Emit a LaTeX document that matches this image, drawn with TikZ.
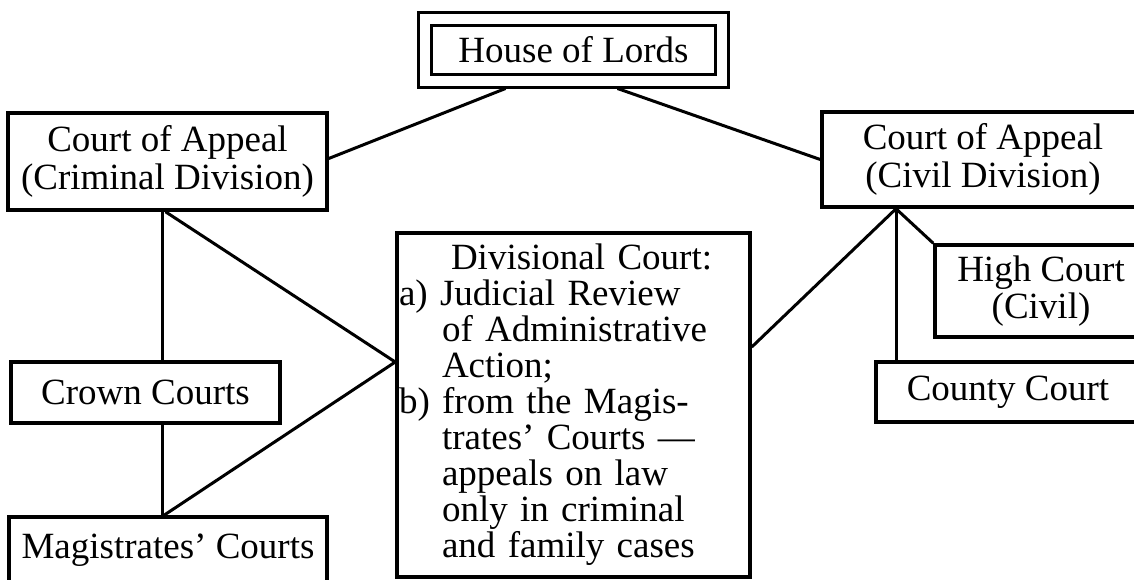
\documentclass[tikz,border=0pt]{standalone}
\usepackage{fontspec}
\setmainfont{Liberation Serif}

\begin{document}
\begin{tikzpicture}[
				x=1pt, y=-1pt,
				court/.style={draw, line width=3.5pt, inner sep=2pt, align=center,
					font=\fontsize{37pt}{37.5pt}\selectfont},
				link/.style={line width=3pt}
				]
				\useasboundingbox (0,0) rectangle (1134,579);
				\node[court, double, line width=3pt, double distance=10pt,
					minimum width=297pt, minimum height=62.5pt] (hol) at (573.5,49.75) {House of Lords};
				\node[court, minimum width=319pt, minimum height=97pt] (crim) at (167.5,161.5)
				{Court of Appeal\\(Criminal Division)};
				\node[court, minimum width=322pt, minimum height=95pt] (civ) at (983,159.5)
				{Court of Appeal\\(Civil Division)};
				\node[court, align=left, text width=349pt, minimum height=344pt,
					font=\fontsize{37pt}{36pt}\selectfont] (div) at (573.5,405)
				{\hspace*{52pt}Divisional Court:\\
					a) Judicial Review\\
					\hspace*{43pt}of Administrative\\
					\hspace*{43pt}Action;\\
					b) from the Magis-\\
					\hspace*{43pt}trates' Courts ---\\
					\hspace*{43pt}appeals on law\\
					\hspace*{43pt}only in criminal\\
					\hspace*{43pt}and family cases};
				\node[court, minimum width=269pt, minimum height=61pt] (crown) at (145.5,392.5) {Crown Courts};
				\node[court, minimum width=318pt, minimum height=66pt] (mag) at (168,550) {Magistrates' Courts};
				\node[court, minimum width=212pt, minimum height=92pt] (high) at (1041,291) {High Court\\(Civil)};
				\node[court, minimum width=264pt, minimum height=60pt] (county) at (1008,392) {County Court};

				\draw[link] ([xshift=-68pt,yshift=-6pt]hol.south) -- ([yshift=3pt]crim.east);
				\draw[link] ([xshift=44pt,yshift=-6pt]hol.south) -- (civ.west);
				\draw[link] ([xshift=-5pt]crim.south) -- ([xshift=-5pt]crim.south |- crown.north);
				\draw[link] ([xshift=-5pt]crim.south |- crown.south) -- ([xshift=-5pt]crim.south |- mag.north);
				\draw[link] ([xshift=-2pt]crim.south) -- ([yshift=43pt]div.west);
				\draw[link] ([xshift=-4pt]mag.north) -- ([yshift=43pt]div.west);
				\draw[link] ([xshift=-87pt]civ.south) -- ([yshift=58pt]div.east);
				\draw[link] ([xshift=-87pt]civ.south) -- ([xshift=-87pt]civ.south |- county.north);
				\draw[link] ([xshift=-87pt]civ.south) -- (high.north west);
\end{tikzpicture}
\end{document}
